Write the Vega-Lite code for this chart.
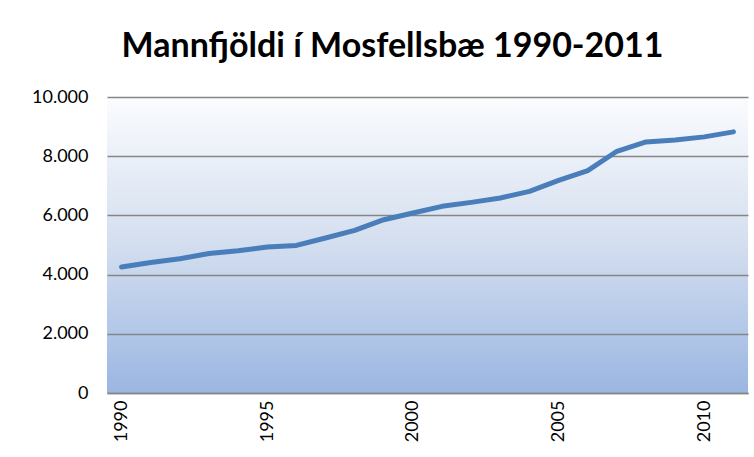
{
  "$schema": "https://vega.github.io/schema/vega-lite/v6.json",
  "autosize": {"type": "none"},
  "padding": {"left": 107, "top": 97, "right": 6, "bottom": 64},
  "width": 641,
  "height": 296,
  "background": "#ffffff",
  "config": {
    "locale": {"number": {"decimal": ",", "thousands": ".", "grouping": [3], "currency": ["", " kr."]}},
    "font": "Lato",
    "view": {
      "stroke": null,
      "fill": {"gradient": "linear", "x1": 0, "y1": 0, "x2": 0, "y2": 1, "stops": [{"offset": 0, "color": "#fbfcfe"}, {"offset": 0.5, "color": "#d3deef"}, {"offset": 1, "color": "#9bb6e2"}]}
    }
  },
  "title": {
    "text": "Mannfjöldi í Mosfellsbæ 1990-2011",
    "font": "Lato",
    "fontSize": 34,
    "fontWeight": "bold",
    "color": "#000000",
    "anchor": "middle",
    "dx": -35,
    "offset": 24
  },
  "data": {
    "values": [
      {"year": 1990, "pop": 4254},
      {"year": 1991, "pop": 4410},
      {"year": 1992, "pop": 4535},
      {"year": 1993, "pop": 4715},
      {"year": 1994, "pop": 4805},
      {"year": 1995, "pop": 4930},
      {"year": 1996, "pop": 4985},
      {"year": 1997, "pop": 5235},
      {"year": 1998, "pop": 5493},
      {"year": 1999, "pop": 5854},
      {"year": 2000, "pop": 6080},
      {"year": 2001, "pop": 6306},
      {"year": 2002, "pop": 6440},
      {"year": 2003, "pop": 6588},
      {"year": 2004, "pop": 6813},
      {"year": 2005, "pop": 7186},
      {"year": 2006, "pop": 7513},
      {"year": 2007, "pop": 8167},
      {"year": 2008, "pop": 8483},
      {"year": 2009, "pop": 8551},
      {"year": 2010, "pop": 8653},
      {"year": 2011, "pop": 8822}
    ]
  },
  "mark": {"type": "line", "color": "#4a7ebb", "strokeWidth": 5, "strokeCap": "round", "strokeJoin": "round"},
  "encoding": {
    "x": {
      "field": "year",
      "type": "quantitative",
      "scale": {"domain": [1989.5, 2011.5], "nice": false, "zero": false},
      "axis": {
        "title": null,
        "values": [1990, 1995, 2000, 2005, 2010],
        "format": "d",
        "labelAngle": -90,
        "labelFontSize": 18,
        "labelColor": "#000000",
        "labelPadding": 7,
        "ticks": false,
        "grid": false,
        "domainColor": "#868686",
        "domainWidth": 1.5
      }
    },
    "y": {
      "field": "pop",
      "type": "quantitative",
      "scale": {"domain": [0, 10000], "nice": false},
      "axis": {
        "title": null,
        "values": [0, 2000, 4000, 6000, 8000, 10000],
        "format": ",d",
        "labelFontSize": 18,
        "labelColor": "#000000",
        "labelPadding": 19,
        "ticks": false,
        "domain": false,
        "grid": true,
        "gridColor": "#868686",
        "gridWidth": 1.5,
        "gridOpacity": 1
      }
    }
  }
}
